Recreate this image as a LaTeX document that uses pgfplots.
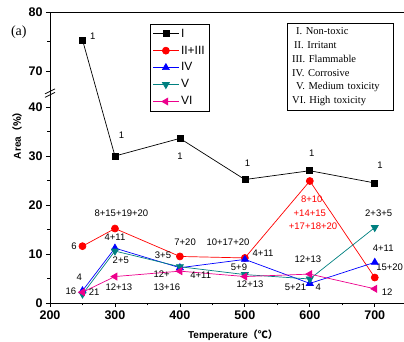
\documentclass[border=0pt]{standalone}
\usepackage{pgfplots}
\pgfplotsset{compat=1.18}
\usepackage{fontspec}
\setmainfont{Liberation Sans}
\newfontfamily\serif{Liberation Serif}
\newfontfamily\cjk{Noto Sans CJK SC}
\definecolor{tealV}{RGB}{0,128,128}
\tikzset{lab/.style={font=\fontsize{9.5}{10}\selectfont, inner sep=0pt}}
\begin{document}
\begin{tikzpicture}
\begin{axis}[
 scale only axis, width=354pt, height=291pt,
 xmin=200, xmax=745, ymin=0, ymax=80,
 y coord trafo/.code={\pgfmathparse{#1>50 ? 47.3+(#1-70)*1.21 : #1}},
 y coord inv trafo/.code={\pgfmathparse{#1>45 ? 70+(#1-47.3)/1.21 : #1}},
 axis x line*=bottom, axis y line*=left,
 axis line style={line width=0.9pt},
 xtick={200,300,400,500,600,700}, minor xtick={250,350,450,550,650},
 ytick={0,10,20,30,40,70,80}, yticklabels={0,10,20,30,40,70,80},
 minor ytick={5,15,25,35,75},
 tick align=outside, major tick length=4pt, minor tick length=2.5pt,
 tick style={line width=0.8pt, black},
 /pgf/number format/assume math mode=true,
 ticklabel style={font=\bfseries\fontsize{12.5}{12.5}\selectfont},
 xlabel={\bfseries\fontsize{10}{10}\selectfont Temperature{\cjk\bfseries （℃）}},
 xlabel style={at={(0.517,-0.11)}, anchor=center},
 ylabel={\bfseries\fontsize{10}{10}\selectfont Area{\cjk\bfseries （\%）}},
 ylabel style={at={(-0.093,0.584)}, anchor=center},
 clip=false,
 legend style={at={(0.282,0.959)}, anchor=north west, draw=black, line width=0.8pt,
   font=\fontsize{12}{12}\selectfont, row sep=3.2pt, inner sep=2.5pt},
 legend cell align=left,
 legend image code/.code={\draw[mark repeat=2,mark phase=2,#1] plot coordinates {(0cm,0cm) (0.45cm,0cm) (0.9cm,0cm)};},
]
\addplot[black, line width=0.7pt, mark=square*, mark size=3pt, mark options={solid}] coordinates {
(250,75.3) (300,30) (400,33.6) (500,25.2) (600,27) (700,24.5)};
\addlegendentry{I}
\addplot[red, line width=0.7pt, mark=*, mark size=3.5pt] coordinates {
(250,11.6) (300,15.2) (400,9.5) (500,9.2) (600,24.9) (700,5.2)};
\addlegendentry{II+III}
\addplot[blue, line width=0.7pt, mark=triangle*, mark size=4pt] coordinates {
(250,2.5) (300,11.2) (400,7.2) (500,8.9) (600,4.0) (700,8.3)};
\addlegendentry{IV}
\addplot[tealV, line width=0.7pt, mark=triangle*, mark size=4pt, mark options={rotate=180}] coordinates {
(250,1.8) (300,10.6) (400,7.4) (500,5.8) (600,4.9) (700,15.4)};
\addlegendentry{V}
\addplot[magenta, line width=0.7pt, mark=triangle*, mark size=4pt, mark options={rotate=90}] coordinates {
(250,2.2) (300,5.4) (400,6.5) (500,5.4) (600,5.9) (700,2.9)};
\addlegendentry{VI}

% labels
\node[lab] at (axis cs:266,75.9) {1};
\node[lab] at (axis cs:310,34.3) {1};
\node[lab] at (axis cs:400,29.9) {1};
\node[lab] at (axis cs:504,28.5) {1};
\node[lab] at (axis cs:603,30.5) {1};
\node[lab] at (axis cs:708,28.2) {1};
\node[lab] at (axis cs:237,11.6) {6};
\node[lab] at (axis cs:310,18.3) {8+15+19+20};
\node[lab] at (axis cs:300,13.5) {4+11};
\node[lab] at (axis cs:309,8.8) {2+5};
\node[lab] at (axis cs:408,12.5) {7+20};
\node[lab] at (axis cs:374,9.8) {3+5};
\node[lab] at (axis cs:372,5.9) {12+};
\node[lab] at (axis cs:380,3.2) {13+16};
\node[lab] at (axis cs:306,3.3) {12+13};
\node[lab] at (axis cs:245,5.2) {4};
\node[lab] at (axis cs:232,2.5) {16};
\node[lab] at (axis cs:268,2.2) {21};
\node[lab] at (axis cs:432,5.7) {4+11};
\node[lab] at (axis cs:474,12.5) {10+17+20};
\node[lab] at (axis cs:528,10.1) {4+11};
\node[lab] at (axis cs:491,7.4) {5+9};
\node[lab] at (axis cs:508,3.9) {12+13};
\node[lab, red] at (axis cs:603,21.2) {8+10};
\node[lab, red] at (axis cs:600,18.4) {+14+15};
\node[lab, red] at (axis cs:605,15.6) {+17+18+20};
\node[lab] at (axis cs:597,8.9) {12+13};
\node[lab] at (axis cs:578,3.3) {5+21};
\node[lab] at (axis cs:613,3.3) {4};
\node[lab] at (axis cs:706,18.3) {2+3+5};
\node[lab] at (axis cs:713,11.2) {4+11};
\node[lab, anchor=east] at ([xshift=-0.8pt]axis cs:745,7.4) {15+20};
\node[lab] at (axis cs:719,2.2) {12};

% text box
\node[draw=black, line width=0.8pt, anchor=north west, align=left, inner xsep=5pt, inner ysep=4pt,
  text width=96pt, font=\serif\fontsize{10.5}{13.8}\selectfont]
  at (rel axis cs:0.669,0.961)
  {\hspace*{4pt}I. Non-toxic\\ \hspace*{2pt}II. Irritant\\ III. Flammable\\ IV. Corrosive\\ \hspace*{4pt}V. Medium toxicity\\ VI. High toxicity};

% top line and axis break
\draw[line width=0.9pt] (rel axis cs:0,1) -- (rel axis cs:1,1);
\draw[line width=0.8pt] ([shift={(-5pt,-3pt)}]axis cs:200,43.3) -- ([shift={(5pt,2pt)}]axis cs:200,43.3);
\draw[line width=0.8pt] ([shift={(-5pt,-6.5pt)}]axis cs:200,43.3) -- ([shift={(5pt,-1.5pt)}]axis cs:200,43.3);

\node[font=\serif\fontsize{14}{14}\selectfont] at (axis description cs:-0.088,0.93) {(a)};

\coordinate (SW) at (rel axis cs:0,0);
\coordinate (NE) at (rel axis cs:1,1);
\end{axis}
\pgfresetboundingbox
\path ([shift={(-50pt,-39pt)}]SW) rectangle ([shift={(0pt,12pt)}]NE);
\end{tikzpicture}
\end{document}
